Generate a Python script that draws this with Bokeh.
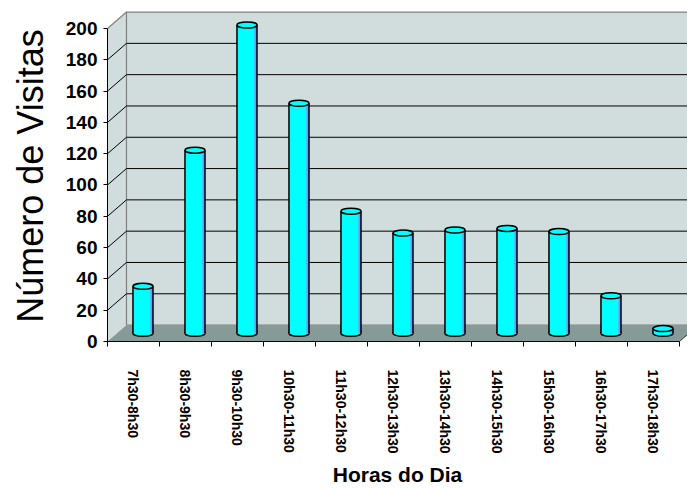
import math
from bokeh.plotting import figure
from bokeh.models import Range1d, FixedTicker, ColumnDataSource
from bokeh.embed import file_html
from bokeh.resources import INLINE

# ---- data ----
categories = ["7h30-8h30", "8h30-9h30", "9h30-10h30", "10h30-11h30", "11h30-12h30",
              "12h30-13h30", "13h30-14h30", "14h30-15h30", "15h30-16h30",
              "16h30-17h30", "17h30-18h30"]
visitas = [30, 117, 197, 147, 78, 64, 66, 67, 65, 24, 3]
y_ticks = [0, 20, 40, 60, 80, 100, 120, 140, 160, 180, 200]
y_title = "Número de Visitas"
x_title = "Horas do Dia"

# ---- 3D style constants ----
n = len(categories)
y_max = y_ticks[-1]
DX = 0.365   # depth offset (category units)
DY = 10.5    # depth offset (value units)
BW = 0.385   # bar width
SW = 0.05    # shading strip width

WALL = "#D1DCDC"
FLOOR = "#869A98"
EDGE = "#808080"
CYAN = "#00FFFF"
SHADE = "#7A92FF"
FONT = "Liberation Sans"

p = figure(width=687, height=488,
           x_range=Range1d(0, n + 0.154), y_range=Range1d(0, 211.5),
           output_backend="svg", toolbar_location=None,
           min_border_left=107, min_border_right=0,
           min_border_top=10, min_border_bottom=147)
p.outline_line_color = None
p.xgrid.visible = False
p.ygrid.visible = False
p.background_fill_color = "white"
p.border_fill_color = "white"

# side wall
p.patch([0, DX, DX, 0], [0, DY, y_max + DY, y_max],
        fill_color=WALL, line_color=None)
p.line([0, DX], [y_max, y_max + DY], line_color=EDGE, line_width=1.2)
# back wall
p.quad(left=[DX], right=[n + DX], bottom=[DY], top=[y_max + DY],
       fill_color=WALL, line_color=EDGE, line_width=1.2)
# floor
p.patch([0, n, n + DX, DX], [0, 0, DY, DY], fill_color=FLOOR, line_color=None)
p.line([n, n + DX], [0, DY], line_color="#333333", line_width=1)

# gridlines
inner = y_ticks[1:-1]
p.segment(x0=[DX] * len(inner), y0=[v + DY for v in inner],
          x1=[n + DX] * len(inner), y1=[v + DY for v in inner],
          line_color="black", line_width=1)
p.segment(x0=[0] * len(inner), y0=inner,
          x1=[DX] * len(inner), y1=[v + DY for v in inner],
          line_color="black", line_width=1)

# bars (cylinders)
xc = [i + 0.5 + DX / 2 for i in range(n)]
base = DY / 2
src = ColumnDataSource(dict(
    x=xc,
    xs=[x + BW / 2 - SW / 2 for x in xc],
    xl=[x - BW / 2 for x in xc],
    xr=[x + BW / 2 for x in xc],
    b=[base] * n,
    t=[base + v for v in visitas],
))
p.ellipse(x="x", y="b", width=BW, height=6, height_units="screen", source=src,
          fill_color=CYAN, line_color="black", line_width=1.5)
p.vbar(x="x", width=BW, bottom="b", top="t", source=src,
       fill_color=CYAN, line_color=None)
p.vbar(x="xs", width=SW, bottom="b", top="t", source=src,
       fill_color=SHADE, line_color=None)
p.segment(x0="xl", y0="b", x1="xl", y1="t", source=src, line_color="black", line_width=1.5)
p.segment(x0="xr", y0="b", x1="xr", y1="t", source=src, line_color="black", line_width=1.5)
p.ellipse(x="x", y="t", width=BW, height=6, height_units="screen", source=src,
          fill_color=CYAN, line_color="black", line_width=1.5)

# y axis
ya = p.yaxis[0]
ya.ticker = FixedTicker(ticks=y_ticks)
ya.bounds = (0, y_max)
ya.axis_line_color = "black"
ya.axis_line_width = 1
ya.major_tick_out = 4
ya.major_tick_in = 0
ya.minor_tick_out = 0
ya.minor_tick_in = 0
ya.major_label_standoff = 6
ya.major_label_text_font = FONT
ya.major_label_text_font_style = "bold"
ya.major_label_text_font_size = "19px"
ya.major_label_text_color = "black"
ya.axis_label = y_title
ya.axis_label_text_font = FONT
ya.axis_label_text_font_style = "normal"
ya.axis_label_text_font_size = "36px"
ya.axis_label_text_color = "black"
ya.axis_label_standoff = 12

# x axis
xa = p.xaxis[0]
centers = [i + 0.5 for i in range(n)]
xa.ticker = FixedTicker(ticks=centers, minor_ticks=list(range(n + 1)))
xa.major_label_overrides = {c: lab for c, lab in zip(centers, categories)}
xa.bounds = (0, n)
xa.axis_line_color = "black"
xa.major_tick_out = 0
xa.major_tick_in = 0
xa.minor_tick_out = 5
xa.minor_tick_in = 0
xa.minor_tick_line_color = "black"
xa.major_label_orientation = "vertical"
xa.major_label_standoff = 23
xa.major_label_text_font = FONT
xa.major_label_text_font_style = "bold"
xa.major_label_text_font_size = "14px"
xa.major_label_text_color = "black"
xa.axis_label = x_title
xa.axis_label_text_font = FONT
xa.axis_label_text_font_style = "bold"
xa.axis_label_text_font_size = "21px"
xa.axis_label_text_color = "black"
xa.axis_label_standoff = 6

open("out.html", "w").write(file_html(p, INLINE))
